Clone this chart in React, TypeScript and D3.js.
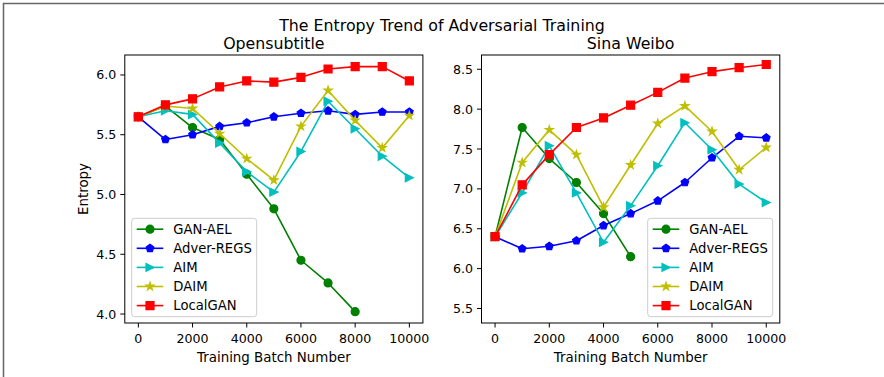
import React, { useRef, useEffect } from 'react';
import * as d3 from 'd3';

// training steps on the x axis
const steps = [0, 1000, 2000, 3000, 4000, 5000, 6000, 7000, 8000, 9000, 10000];

// Opensubtitle panel
const openGanAel = [5.65, 5.74, 5.56, 5.46, 5.17, 4.88, 4.45, 4.26, 4.02];
const openAdverRegs = [5.65, 5.46, 5.5, 5.57, 5.6, 5.65, 5.68, 5.7, 5.67, 5.69, 5.69];
const openAim = [5.65, 5.7, 5.67, 5.43, 5.19, 5.02, 5.36, 5.78, 5.55, 5.32, 5.14];
const openDaim = [5.65, 5.74, 5.72, 5.51, 5.3, 5.12, 5.57, 5.87, 5.62, 5.39, 5.66];
const openLocalGan = [5.65, 5.75, 5.8, 5.9, 5.95, 5.94, 5.98, 6.05, 6.07, 6.07, 5.95];

// Sina Weibo panel
const weiboGanAel = [6.4, 7.77, 7.38, 7.08, 6.69, 6.15];
const weiboAdverRegs = [6.4, 6.25, 6.28, 6.35, 6.54, 6.69, 6.85, 7.08, 7.39, 7.66, 7.64];
const weiboAim = [6.4, 6.95, 7.54, 6.95, 6.33, 6.79, 7.29, 7.83, 7.49, 7.06, 6.83];
const weiboDaim = [6.4, 7.33, 7.74, 7.43, 6.77, 7.3, 7.82, 8.04, 7.72, 7.24, 7.52];
const weiboLocalGan = [6.4, 7.05, 7.43, 7.77, 7.89, 8.05, 8.21, 8.39, 8.47, 8.52, 8.56];

const seriesNames = ['GAN-AEL', 'Adver-REGS', 'AIM', 'DAIM', 'LocalGAN'];
const seriesColors = ['#008000', '#0000ff', '#00bfbf', '#bfbf00', '#ff0000'];
const seriesMarkers = ['circle', 'pentagon', 'triangle', 'star', 'square'];

const xTicks = [0, 2000, 4000, 6000, 8000, 10000];
const openYTicks = [4.0, 4.5, 5.0, 5.5, 6.0];
const weiboYTicks = [5.5, 6.0, 6.5, 7.0, 7.5, 8.0, 8.5];

const FONT = 'DejaVu Sans, sans-serif';

// marker path centred on 0,0 (s = marker size in px)
const markerPath = (kind, s) => {
  const r = s / 2;
  if (kind === 'circle') {
    return d3.symbol(d3.symbolCircle, Math.PI * r * r)();
  }
  if (kind === 'square') {
    return `M${-r},${-r}H${r}V${r}H${-r}Z`;
  }
  if (kind === 'triangle') {
    return `M${r},0L${-r},${r}L${-r},${-r}Z`;
  }
  if (kind === 'pentagon') {
    const pts = d3.range(5).map((i) => {
      const a = -Math.PI / 2 + (i * 2 * Math.PI) / 5;
      return [r * Math.cos(a), r * Math.sin(a)];
    });
    return 'M' + pts.map((p) => p.join(',')).join('L') + 'Z';
  }
  // star
  const pts = d3.range(10).map((i) => {
    const a = -Math.PI / 2 + (i * Math.PI) / 5;
    const rr = i % 2 === 0 ? r * 1.05 : r * 1.05 * 0.382;
    return [rr * Math.cos(a), rr * Math.sin(a)];
  });
  return 'M' + pts.map((p) => p.join(',')).join('L') + 'Z';
};

const panels = [
  {
    title: 'Opensubtitle',
    left: 124.8,
    right: 422.9,
    yDomain: [3.925, 6.167],
    yTicks: openYTicks,
    series: [openGanAel, openAdverRegs, openAim, openDaim, openLocalGan],
    yLabel: 'Entropy',
    legendX: 131.7,
  },
  {
    title: 'Sina Weibo',
    left: 481.5,
    right: 779.8,
    yDomain: [5.318, 8.679],
    yTicks: weiboYTicks,
    series: [weiboGanAel, weiboAdverRegs, weiboAim, weiboDaim, weiboLocalGan],
    yLabel: null,
    legendX: 647.7,
  },
];

const TOP = 55;
const BOTTOM = 323;
const MARK = 8;

export default function App() {
  const svgRef = useRef(null);

  useEffect(() => {
    document.body.style.margin = '0';
    const svg = d3.select(svgRef.current);
    svg.selectAll('*').remove();

    // outer frame (top and left edges only)
    svg
      .append('path')
      .attr('d', 'M3.5,377V3.5H884')
      .attr('fill', 'none')
      .attr('stroke', '#666')
      .attr('stroke-width', 1.5);

    svg
      .append('text')
      .attr('x', 442)
      .attr('y', 30.5)
      .attr('text-anchor', 'middle')
      .style('font-family', FONT)
      .style('font-size', '15.8px')
      .text('The Entropy Trend of Adversarial Training');

    panels.forEach((p) => {
      const g = svg.append('g');
      const x = d3.scaleLinear().domain([-500, 10500]).range([p.left, p.right]);
      const y = d3.scaleLinear().domain(p.yDomain).range([BOTTOM, TOP]);

      // lines + markers, GAN-AEL first so LocalGAN sits on top
      p.series.forEach((vals, si) => {
        const pts = vals.map((v, i) => [steps[i], v]);
        const line = d3
          .line()
          .x((d) => x(d[0]))
          .y((d) => y(d[1]));
        g.append('path')
          .attr('d', line(pts))
          .attr('fill', 'none')
          .attr('stroke', seriesColors[si])
          .attr('stroke-width', 1.6)
          .attr('stroke-linejoin', 'round');
        g.selectAll(null)
          .data(pts)
          .join('path')
          .attr('d', markerPath(seriesMarkers[si], MARK))
          .attr('transform', (d) => `translate(${x(d[0])},${y(d[1])})`)
          .attr('fill', seriesColors[si])
          .attr('stroke', seriesColors[si])
          .attr('stroke-width', 1.2)
          .attr('stroke-linejoin', 'miter');
      });

      // axes box
      g.append('rect')
        .attr('x', p.left)
        .attr('y', TOP)
        .attr('width', p.right - p.left)
        .attr('height', BOTTOM - TOP)
        .attr('fill', 'none')
        .attr('stroke', '#000')
        .attr('stroke-width', 1);

      // x ticks
      const xt = g.selectAll(null).data(xTicks).join('g');
      xt.append('line')
        .attr('x1', (d) => x(d))
        .attr('x2', (d) => x(d))
        .attr('y1', BOTTOM)
        .attr('y2', BOTTOM + 4.5)
        .attr('stroke', '#000')
        .attr('stroke-width', 1);
      xt.append('text')
        .attr('x', (d) => x(d))
        .attr('y', 343)
        .attr('text-anchor', 'middle')
        .style('font-family', FONT)
        .style('font-size', '12.6px')
        .text((d) => d);

      // y ticks
      const yt = g.selectAll(null).data(p.yTicks).join('g');
      yt.append('line')
        .attr('x1', p.left - 4.5)
        .attr('x2', p.left)
        .attr('y1', (d) => y(d))
        .attr('y2', (d) => y(d))
        .attr('stroke', '#000')
        .attr('stroke-width', 1);
      yt.append('text')
        .attr('x', p.left - 8.5)
        .attr('y', (d) => y(d))
        .attr('dy', '0.36em')
        .attr('text-anchor', 'end')
        .style('font-family', FONT)
        .style('font-size', '12.6px')
        .text((d) => d.toFixed(1));

      const cx = (p.left + p.right) / 2;
      g.append('text')
        .attr('x', cx)
        .attr('y', 48.5)
        .attr('text-anchor', 'middle')
        .style('font-family', FONT)
        .style('font-size', '15.8px')
        .text(p.title);

      g.append('text')
        .attr('x', cx)
        .attr('y', 361.5)
        .attr('text-anchor', 'middle')
        .style('font-family', FONT)
        .style('font-size', '13.4px')
        .text('Training Batch Number');

      if (p.yLabel) {
        g.append('text')
          .attr('transform', `translate(88,${(TOP + BOTTOM) / 2}) rotate(-90)`)
          .attr('text-anchor', 'middle')
          .style('font-family', FONT)
          .style('font-size', '13.4px')
          .text(p.yLabel);
      }

      // legend
      const lg = g.append('g').attr('transform', `translate(${p.legendX},218.3)`);
      lg.append('rect')
        .attr('width', 125)
        .attr('height', 98.4)
        .attr('rx', 3)
        .attr('fill', 'rgba(255,255,255,0.8)')
        .attr('stroke', '#ccc')
        .attr('stroke-width', 1);
      seriesNames.forEach((name, si) => {
        const ly = 10.9 + si * 19.1;
        lg.append('line')
          .attr('x1', 5)
          .attr('x2', 31.6)
          .attr('y1', ly)
          .attr('y2', ly)
          .attr('stroke', seriesColors[si])
          .attr('stroke-width', 1.6);
        lg.append('path')
          .attr('d', markerPath(seriesMarkers[si], MARK))
          .attr('transform', `translate(18.3,${ly})`)
          .attr('fill', seriesColors[si])
          .attr('stroke', seriesColors[si])
          .attr('stroke-width', 1.2);
        lg.append('text')
          .attr('x', 41.6)
          .attr('y', ly)
          .attr('dy', '0.36em')
          .style('font-family', FONT)
          .style('font-size', '13.2px')
          .text(name);
      });
    });
  }, []);

  return (
    <svg
      ref={svgRef}
      width={884}
      height={377}
      style={{ display: 'block', background: '#fff' }}
    ></svg>
  );
}
